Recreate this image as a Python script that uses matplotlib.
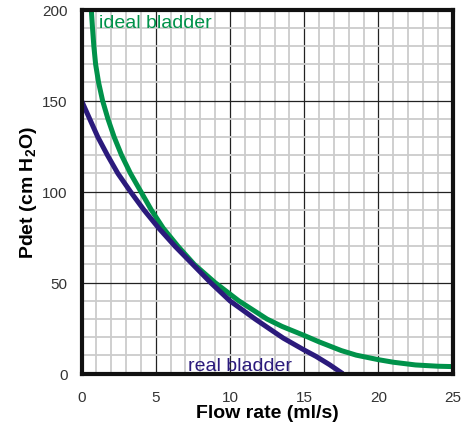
import matplotlib
matplotlib.use("Agg")
import matplotlib.pyplot as plt
from matplotlib.ticker import MultipleLocator

plt.rcParams['font.family'] = ['Liberation Sans', 'DejaVu Sans']

# ideal bladder curve
ideal_flow = [0.66, 0.74, 0.83, 0.95, 1.15, 1.42, 1.78, 2.2, 2.7, 3.3, 4.0, 4.7,
              5.5, 6.5, 7.6, 9.0, 10.6, 12.5, 13.5, 15, 16, 17.5, 18.5, 20, 21,
              22.5, 24, 25]
ideal_pdet = [200, 190, 180, 170, 160, 150, 140, 130, 120, 110, 100, 90,
              80, 70, 60, 50, 40, 30, 26, 21, 17.5, 12.7, 10.2, 7.7, 6.3,
              4.8, 4.1, 3.9]

# real bladder curve
real_flow = [0, 0.55, 1.1, 1.75, 2.45, 3.3, 4.2, 5.2, 6.3, 7.5, 8.7, 10.0,
             11.7, 12.6, 13.6, 15, 15.8, 16.7, 17.6]
real_pdet = [150, 140, 130, 120, 110, 100, 90, 80, 70, 60, 50, 40,
             30, 25, 19.5, 13, 9.5, 5, 0]

green = "#00924a"
navy = "#2b1a7c"

fig = plt.figure(figsize=(4.72, 4.27), dpi=100)
ax = fig.add_axes([0.1727, 0.1225, 0.7863, 0.8525])

ax.plot(ideal_flow, ideal_pdet, color=green, lw=3.6, zorder=3,
        solid_capstyle="butt", solid_joinstyle="round")
ax.plot(real_flow, real_pdet, color=navy, lw=3.6, zorder=3,
        solid_capstyle="butt", solid_joinstyle="round")

ax.set_xlim(0, 25)
ax.set_ylim(0, 200)
ax.xaxis.set_major_locator(MultipleLocator(5))
ax.xaxis.set_minor_locator(MultipleLocator(1))
ax.yaxis.set_major_locator(MultipleLocator(50))
ax.yaxis.set_minor_locator(MultipleLocator(10))
ax.grid(which="minor", color="#cccccc", lw=1.3, zorder=1)
ax.grid(which="major", color="#222222", lw=0.9, zorder=2)
ax.set_axisbelow(True)
ax.tick_params(which="both", length=0)
ax.tick_params(axis="x", pad=12, labelsize=11, labelcolor="#333333")
ax.tick_params(axis="y", pad=10, labelsize=11, labelcolor="#333333")

for side in ["left", "bottom", "right", "top"]:
    ax.spines[side].set_linewidth(3)
    ax.spines[side].set_color("#111111")
    ax.spines[side].set_zorder(5)

ax.text(1.15, 190.5, "ideal bladder", color=green, fontsize=14)
ax.text(7.2, 2.0, "real bladder", color=navy, fontsize=14)

ax.set_xlabel("Flow rate (ml/s)", fontsize=14, fontweight="bold", labelpad=0)
ax.set_ylabel("Pdet (cm H$_\\mathregular{2}$O)", fontsize=14, fontweight="bold", labelpad=2)

fig.savefig("out.png", dpi=100)
